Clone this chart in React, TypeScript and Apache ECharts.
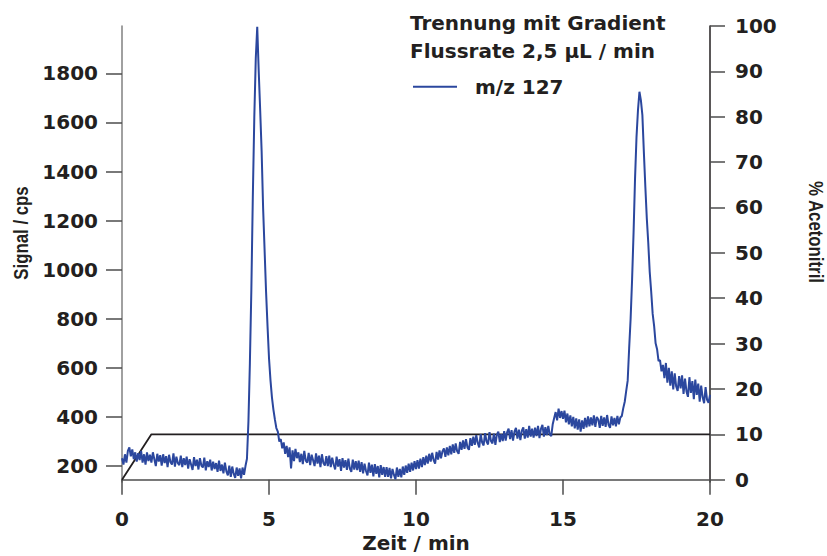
import React, { useEffect, useRef } from "react";
import * as echarts from "echarts";

// Signal (cps), sampled every 0.05 min from 0 to 20 min
const timeStep = 0.05;
const signal: number[] = [
  // 0.00 - 0.95
  232, 206, 248, 214, 262, 276, 240, 268, 228, 256, 218, 252, 224, 262, 214, 248, 206, 256, 220, 246,
  // 1.00 - 1.95
  214, 256, 228, 200, 250, 218, 244, 202, 248, 212, 240, 196, 246, 216, 206, 252, 198, 238, 212, 204,
  // 2.00 - 2.95
  242, 196, 232, 204, 238, 190, 228, 206, 184, 236, 200, 226, 186, 232, 202, 194, 234, 182, 220, 196,
  // 3.00 - 3.95
  226, 182, 218, 188, 212, 176, 222, 180, 206, 170, 214, 178, 162, 202, 156, 198, 168, 152, 194, 160,
  // 4.00 - 4.95
  190, 150, 194, 164, 200, 230, 380, 620, 920, 1300, 1620, 1860, 1990, 1810, 1650, 1480, 1250, 1080, 910, 770,
  // 5.00 - 5.95
  640, 550, 480, 430, 390, 355, 340, 300, 310, 272, 296, 250, 282, 236, 276, 190, 264, 220, 270, 232,
  // 6.00 - 6.95
  256, 216, 250, 208, 262, 222, 214, 254, 204, 246, 224, 200, 252, 210, 242, 196, 248, 212, 202, 240,
  // 7.00 - 7.95
  200, 242, 196, 234, 206, 186, 238, 198, 228, 180, 232, 194, 224, 184, 230, 190, 176, 226, 186, 220,
  // 8.00 - 8.95
  184, 222, 176, 216, 170, 210, 180, 162, 214, 172, 206, 158, 208, 168, 200, 154, 204, 164, 196, 156,
  // 9.00 - 9.95
  196, 156, 192, 150, 188, 164, 146, 194, 156, 188, 154, 198, 164, 202, 172, 210, 176, 214, 182, 220,
  // 10.00 - 10.95
  188, 224, 190, 230, 196, 236, 204, 242, 210, 250, 218, 254, 224, 210, 258, 226, 264, 232, 260, 272,
  // 11.00 - 11.95
  238, 276, 244, 282, 248, 288, 254, 292, 260, 250, 298, 266, 304, 270, 310, 276, 266, 314, 282, 320,
  // 12.00 - 12.95
  286, 326, 294, 276, 330, 296, 284, 334, 300, 288, 338, 302, 292, 332, 286, 328, 340, 298, 330, 302,
  // 13.00 - 13.95
  342, 304, 338, 352, 310, 346, 304, 340, 356, 312, 348, 306, 344, 358, 312, 350, 316, 364, 320, 352,
  // 14.00 - 14.95
  316, 356, 322, 364, 314, 352, 368, 320, 358, 326, 364, 328, 322, 370, 396, 420, 386, 434, 396, 424,
  // 15.00 - 15.95
  392, 426, 378, 414, 370, 406, 362, 400, 354, 394, 348, 390, 340, 386, 352, 396, 358, 402, 362, 398,
  // 16.00 - 16.95
  366, 406, 360, 400, 390, 356, 404, 364, 398, 360, 408, 368, 356, 402, 366, 396, 362, 404, 370, 398,
  // 17.00 - 17.95
  404, 436, 462, 506, 548, 680, 800, 960, 1150, 1370, 1540, 1650, 1725, 1690, 1630, 1480, 1340, 1210, 1110, 990,
  // 18.00 - 18.95
  910, 820, 770, 700, 676, 628, 632, 586, 612, 558, 620, 540, 600, 528, 586, 512, 578, 524, 506, 566,
  // 19.00 - 20.00
  516, 570, 494, 556, 504, 482, 562, 498, 546, 472, 552, 490, 536, 462, 528, 480, 456, 522, 470, 458, 490,
];

// Acetonitrile gradient (%)
const gradientTime = [0, 1, 20];
const gradientPct = [0, 10, 10];

// Axis tick labels
const signalTicks = [200, 400, 600, 800, 1000, 1200, 1400, 1600, 1800];
const pctTicks = [0, 10, 20, 30, 40, 50, 60, 70, 80, 90, 100];

const titleLines = ["Trennung mit Gradient", "Flussrate 2,5 µL / min"];
const seriesName = "m/z 127";

const TXT = "#231f20";
const BLUE = "#2b479e";
const BOLD = 'bold 20px "DejaVu Sans", Verdana, sans-serif';
const NARROW = 'bold 20px "Liberation Sans", Arial, sans-serif';
const labelStyle = {
  fontSize: 20,
  fontWeight: "bold" as const,
  fontFamily: '"DejaVu Sans", Verdana, sans-serif',
  color: TXT,
};
const plain = (v: number) => String(v);

export default function App() {
  const ref = useRef<HTMLDivElement>(null);
  useEffect(() => {
    if (!ref.current) return;
    const chart = echarts.init(ref.current, undefined, { renderer: "svg" });
    const signalData = signal.map((v, i) => [+(i * timeStep).toFixed(2), v]);
    const gradData = gradientTime.map((t, i) => [t, gradientPct[i]]);
    chart.setOption({
      animation: false,
      backgroundColor: "#ffffff",
      grid: {
        left: 122,
        right: 117,
        top: 26,
        bottom: 74,
        containLabel: false,
        outerBoundsMode: "none",
      },
      legend: {
        left: 413,
        top: 76.7,
        padding: 0,
        icon: "rect",
        itemWidth: 44,
        itemHeight: 2,
        data: [{ name: seriesName, itemStyle: { color: BLUE } }],
        textStyle: { ...labelStyle, padding: [0, 0, 0, 13] },
      },
      xAxis: {
        type: "value",
        min: 0,
        max: 20,
        interval: 5,
        splitLine: { show: false },
        axisLine: { lineStyle: { color: "#4d4d4d", width: 1.5 } },
        axisTick: { length: 15, lineStyle: { color: "#4d4d4d", width: 1.5 } },
        axisLabel: { ...labelStyle, margin: 27, formatter: plain },
        name: "Zeit / min",
        nameLocation: "middle",
        nameGap: 51,
        nameMoveOverlap: false,
        nameTextStyle: { ...labelStyle, lineHeight: 20 },
      },
      yAxis: [
        {
          type: "value",
          position: "left",
          min: 135,
          max: 1993,
          splitLine: { show: false },
          axisLine: { show: true, lineStyle: { color: "#808080", width: 1.5 } },
          axisTick: {
            show: true,
            length: 16,
            customValues: signalTicks,
            lineStyle: { color: "#4d4d4d", width: 1.5 },
          },
          axisLabel: { ...labelStyle, margin: 24, customValues: signalTicks, formatter: plain },
        },
        {
          type: "value",
          position: "right",
          min: -0.5,
          max: 100,
          splitLine: { show: false },
          axisLine: { show: true, lineStyle: { color: "#231f20", width: 1.5 } },
          axisTick: {
            show: true,
            length: 15,
            customValues: pctTicks,
            lineStyle: { color: "#4d4d4d", width: 1.5 },
          },
          axisLabel: { ...labelStyle, margin: 25, customValues: pctTicks, formatter: plain },
        },
      ],
      graphic: [
        {
          type: "text",
          x: 410,
          y: 23,
          style: { text: titleLines[0], font: BOLD, fill: TXT, align: "left", verticalAlign: "middle" },
        },
        {
          type: "text",
          x: 410,
          y: 51,
          style: { text: titleLines[1], font: BOLD, fill: TXT, align: "left", verticalAlign: "middle" },
        },
        {
          type: "text",
          x: 21,
          y: 233,
          rotation: Math.PI / 2,
          scaleX: 0.84,
          style: {
            text: "Signal / cps",
            font: NARROW,
            fill: TXT,
            align: "center",
            verticalAlign: "middle",
          },
        },
        {
          type: "text",
          x: 816,
          y: 232,
          rotation: -Math.PI / 2,
          scaleX: 0.84,
          style: {
            text: "% Acetonitril",
            font: NARROW,
            fill: TXT,
            align: "center",
            verticalAlign: "middle",
          },
        },
      ],
      series: [
        {
          name: seriesName,
          type: "line",
          yAxisIndex: 0,
          data: signalData,
          showSymbol: false,
          symbol: "none",
          lineStyle: { color: BLUE, width: 2 },
          itemStyle: { color: BLUE },
          z: 3,
        },
        {
          name: "Gradient",
          type: "line",
          yAxisIndex: 1,
          data: gradData,
          showSymbol: false,
          symbol: "none",
          lineStyle: { color: "#231f20", width: 1.8 },
          z: 2,
        },
      ],
    });
    return () => chart.dispose();
  }, []);
  return (
    <div
      ref={ref}
      style={{ position: "absolute", left: 0, top: 0, width: 827, height: 556 }}
    />
  );
}
